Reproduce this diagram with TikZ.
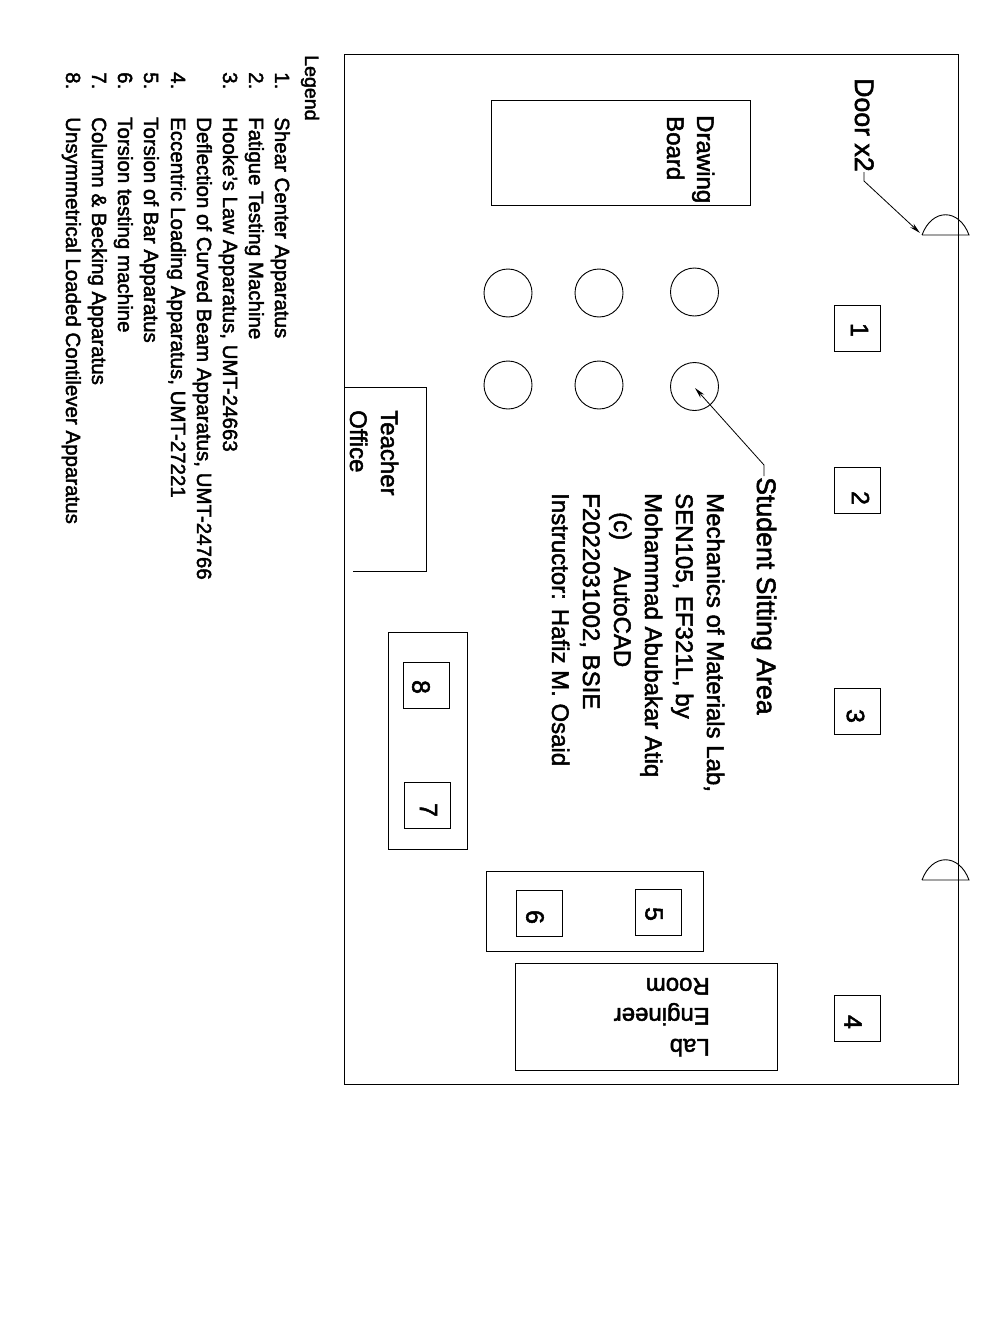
\documentclass[tikz,border=0pt]{standalone}
\usepackage{fontspec}
\setmainfont{Liberation Sans}[FakeBold=2]
\usetikzlibrary{arrows.meta}
\tikzset{
  lab/.style={rotate=-90,anchor=base west,inner sep=0pt,text=black},
  upside/.style={rotate=180,anchor=base west,inner sep=0pt,text=black},
  legendtext/.style={lab,font=\fontsize{20.5}{21}\selectfont},
  bigtext/.style={lab,font=\fontsize{24}{24}\selectfont},
  hugetext/.style={lab,font=\fontsize{26.7}{27}\selectfont},
  midtext/.style={lab,font=\fontsize{24}{24}\selectfont},
  numbox/.style={draw=black,line width=1pt,minimum size=46pt,inner sep=0pt},
  numtext/.style={rotate=-90,inner sep=0pt,font=\fontsize{25}{25}\selectfont},
  seat/.style={draw=black,line width=0.9pt,circle,minimum size=48pt,inner sep=0pt},
  wall/.style={draw=black,line width=1pt},
  leader/.style={draw=black,line width=0.8pt,-{Stealth[length=11pt,width=5pt]}},
  doorarc/.style={draw=black,line width=0.9pt},
}
\begin{document}
\begin{tikzpicture}[x=1pt,y=-1pt]
\useasboundingbox (0,0) rectangle (991,1322);
\fill[white] (0,0) rectangle (991,1322);
\draw[wall] (344.5,55) rectangle (958,1084);
\draw[wall] (491,100) rectangle (750,205);
\draw[wall] (515.5,963) rectangle (777,1070);
\draw[wall] (486.5,871) rectangle (703.5,951.5);
\draw[wall] (388,632) rectangle (467,849);
\draw[wall] (344.5,387) -- (426,387) -- (426,571) -- (353,571);
\coordinate (door1a) at (922,235);
\coordinate (door1b) at (969,235);
\coordinate (door2a) at (922,880);
\coordinate (door2b) at (969,880);
\draw[doorarc] (door1a) -- (door1b) .. controls (959,208) and (932,208) .. (door1a);
\draw[doorarc] (door2a) -- (door2b) .. controls (959,853) and (932,853) .. (door2a);
\node[seat] (s1) at (508,293) {};
\node[seat] (s2) at (599,293) {};
\node[seat] (s3) at (694.5,292) {};
\node[seat] (s4) at (508,385) {};
\node[seat] (s5) at (599,385) {};
\node[seat] (s6) at (694.5,386.5) {};
\node[numbox] (b1) at (857,328) {};
\node[numbox] (b2) at (857.5,490) {};
\node[numbox] (b3) at (857.5,711) {};
\node[numbox] (b4) at (857.5,1018) {};
\node[numbox] (b5) at (658.5,912) {};
\node[numbox] (b6) at (539.5,913) {};
\node[numbox] (b7) at (427.5,805) {};
\node[numbox] (b8) at (426,685) {};
\node[numtext] (d1) at (859.5,330) {1};
\node[numtext] (d2) at (860.5,498) {2};
\node[numtext] (d3) at (855.5,716) {3};
\node[numtext] (d4) at (853,1022) {4};
\node[numtext] (d5) at (654,914) {5};
\node[numtext] (d6) at (535,917) {6};
\node[numtext] (d7) at (428.5,810) {7};
\node[numtext] (d8) at (421,687) {8};
\node[hugetext] (door) at (855,78) {Door x2};
\node[bigtext] (draw1) at (697,115) {Drawing};
\node[bigtext] (draw2) at (667,116) {Board};
\node[hugetext] (stud) at (757,477) {Student Sitting Area};
\node[bigtext] (t1) at (381,410) {Teacher};
\node[bigtext] (t2) at (350,410) {Office};
\node[upside,font=\fontsize{24}{24}\selectfont] (r1) at (710,1039) {Lab};
\node[upside,font=\fontsize{24}{24}\selectfont] (r2) at (710,1008) {Engineer};
\node[upside,font=\fontsize{24}{24}\selectfont] (r3) at (710,978) {Room};
\node[midtext] (m1) at (707,493) {Mechanics of Materials Lab,};
\node[midtext] (m2) at (676,493) {SEN105, EF321L, by};
\node[midtext] (m3) at (645,493) {Mohammad Abubakar Atiq};
\node[midtext] (m4a) at (614,512) {(c)};
\node[midtext] (m4b) at (614,567) {AutoCAD};
\node[midtext] (m5) at (583,493) {F2022031002, BSIE};
\node[midtext] (m6) at (552,493) {Instructor: Hafiz M. Osaid};
\node[legendtext,font=\fontsize{19.6}{20}\selectfont] (lg) at (305,55) {Legend};
\node[legendtext] (n1) at (275,72) {1.};
\node[legendtext] (n2) at (249,72) {2.};
\node[legendtext] (n3) at (223,72) {3.};
\node[legendtext] (n4) at (171,72) {4.};
\node[legendtext] (n5) at (144,72) {5.};
\node[legendtext] (n6) at (118,72) {6.};
\node[legendtext] (n7) at (92,72) {7.};
\node[legendtext] (n8) at (66,72) {8.};
\node[legendtext] (l1) at (275,117) {Shear Center Apparatus};
\node[legendtext] (l2) at (249,117) {Fatigue Testing Machine};
\node[legendtext] (l3) at (223,117) {Hooke's Law Apparatus, UMT-24663};
\node[legendtext] (l3b) at (197,117) {Deflection of Curved Beam Apparatus, UMT-24766};
\node[legendtext] (l4) at (171,117) {Eccentric Loading Apparatus, UMT-27221};
\node[legendtext] (l5) at (144,117) {Torsion of Bar Apparatus};
\node[legendtext] (l6) at (118,117) {Torsion testing machine};
\node[legendtext] (l7) at (92,117) {Column \& Becking Apparatus};
\node[legendtext] (l8) at (66,117) {Unsymmetrical Loaded Contilever Apparatus};
\coordinate (doortip) at (920,233);
\coordinate (doorbend) at (864,181);
\coordinate (doorstart) at (864,172);
\coordinate (studtip) at (695,388);
\coordinate (studbend) at (764,465);
\coordinate (studstart) at (764,476);
\draw[leader] (doorstart) -- (doorbend) -- (doortip);
\draw[leader] (studstart) -- (studbend) -- (studtip);
\end{tikzpicture}
\end{document}
